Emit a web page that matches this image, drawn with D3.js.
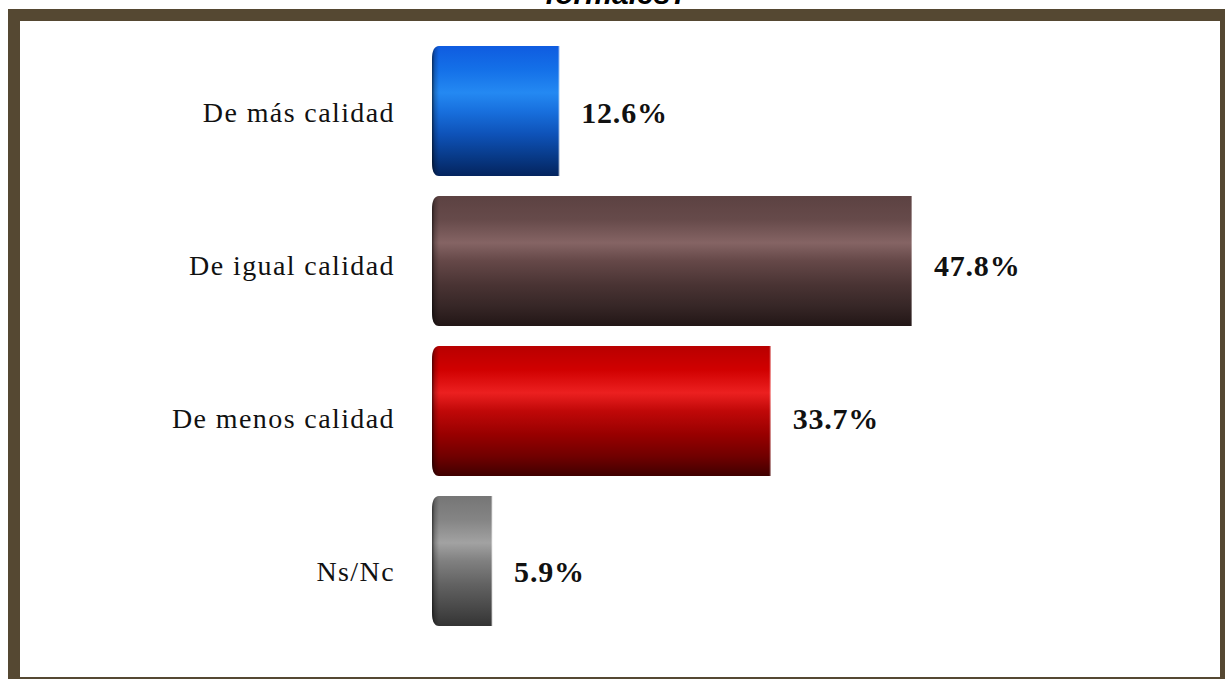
<!DOCTYPE html>
<html><head><meta charset="utf-8">
<script src="https://cdn.jsdelivr.net/npm/d3@7"></script>
<style>html,body{margin:0;padding:0;background:#fff;overflow:hidden}</style>
</head><body>
<svg id="chart" width="1225" height="679"></svg>
<script>
const categories = ["De más calidad", "De igual calidad", "De menos calidad", "Ns/Nc"];
const values = [12.6, 47.8, 33.7, 5.9];
const valueLabels = ["12.6%", "47.8%", "33.7%", "5.9%"];
const titleText = "formales?";
const palettes = [
  ["#0f5ce0", "#1470e8", "#2489f2", "#1870de", "#0e52b8", "#083a88", "#04245e"],
  ["#5c4242", "#664a4a", "#856464", "#654848", "#4a3434", "#362626", "#221616"],
  ["#b80000", "#d00000", "#ec2020", "#c00808", "#980000", "#700000", "#400000"],
  ["#767676", "#848484", "#a2a2a2", "#808080", "#626262", "#4a4a4a", "#343434"]
];

const svg = d3.select("#chart");
const W = 1225, H = 679;

// frame
svg.append("rect").attr("x", 8).attr("y", 9).attr("width", W - 8).attr("height", H - 9).attr("fill", "#554832");
svg.append("rect").attr("x", 20).attr("y", 21).attr("width", 1200).attr("height", 656).attr("fill", "#ffffff");

// title, cut off at the top as in the reference
svg.append("text").attr("x", 617).attr("y", 4).attr("text-anchor", "middle")
  .attr("font-family", "Liberation Sans, Arial, sans-serif").attr("font-weight", "bold")
  .attr("font-style", "italic").attr("font-size", 30).attr("fill", "#000").text(titleText);

const x = d3.scaleLinear().domain([0, 50]).range([433, 934]);
const y = d3.scaleBand().domain(categories).range([36, 636]).paddingInner(0.13333).paddingOuter(0.06667);
const yLab = d3.scalePoint().domain(categories).range([112, 571]);

const defs = svg.append("defs");
const stopsPos = [0, 0.18, 0.36, 0.5, 0.68, 0.85, 1];
palettes.forEach((p, i) => {
  const g = defs.append("linearGradient").attr("id", "g" + i).attr("x1", 0).attr("y1", 0).attr("x2", 0).attr("y2", 1);
  p.forEach((c, k) => g.append("stop").attr("offset", stopsPos[k]).attr("stop-color", c));
});
const cap = defs.append("linearGradient").attr("id", "cap").attr("x1", 0).attr("y1", 0).attr("x2", 1).attr("y2", 0);
cap.append("stop").attr("offset", 0).attr("stop-color", "#000").attr("stop-opacity", 0.6);
cap.append("stop").attr("offset", 0.4).attr("stop-color", "#000").attr("stop-opacity", 0.2);
cap.append("stop").attr("offset", 1).attr("stop-color", "#000").attr("stop-opacity", 0);

const bw = y.bandwidth();
const r = 7;
function barPath(x0, x1, y0, h) {
  return `M${x0 + r},${y0} H${x1} V${y0 + h} H${x0 + r} Q${x0},${y0 + h} ${x0},${y0 + h - r * 2} V${y0 + r * 2} Q${x0},${y0} ${x0 + r},${y0} Z`;
}

const bars = svg.append("g").selectAll("g").data(categories).join("g");
bars.append("path")
  .attr("d", (d, i) => barPath(x(0) - 1, x(values[i]), y(d), bw))
  .attr("fill", (d, i) => `url(#g${i})`);
bars.append("path")
  .attr("d", (d, i) => barPath(x(0) - 1, x(0) + 6, y(d), bw))
  .attr("fill", "url(#cap)");
bars.append("rect")
  .attr("x", (d, i) => x(values[i]) - 1).attr("y", d => y(d)).attr("width", 1.2).attr("height", bw)
  .attr("fill", "#fff").attr("opacity", 0.35);

// category labels
svg.append("g").selectAll("text").data(categories).join("text")
  .attr("x", 395).attr("y", d => yLab(d)).attr("dy", "0.35em").attr("text-anchor", "end")
  .attr("font-family", "Liberation Serif, Times New Roman, serif").attr("font-size", 28)
  .attr("letter-spacing", 1.4).attr("fill", "#111").text(d => d);

// value labels
svg.append("g").selectAll("text").data(categories).join("text")
  .attr("x", (d, i) => x(values[i]) + 22).attr("y", d => yLab(d)).attr("dy", "0.35em")
  .attr("font-family", "Liberation Serif, Times New Roman, serif").attr("font-weight", "bold")
  .attr("font-size", 30).attr("letter-spacing", 0.8).attr("fill", "#111").text((d, i) => valueLabels[i]);
</script>
</body></html>
